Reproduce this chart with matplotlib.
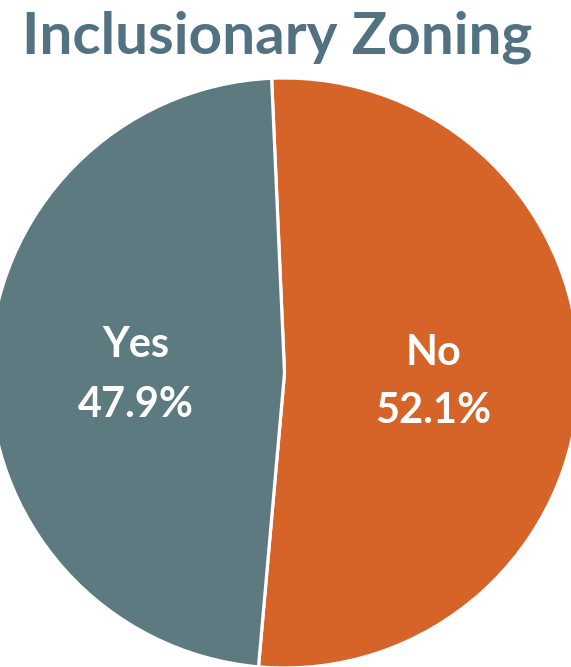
import matplotlib
matplotlib.use("Agg")
import matplotlib.pyplot as plt

# Survey result: does the jurisdiction have inclusionary zoning?
categories = ["No", "Yes"]
shares = [52.1, 47.9]
slice_colors = ["#D66328", "#5C7A7F"]
title_text = "Inclusionary Zoning"
title_color = "#527282"

W, H, DPI = 571, 667, 100
fig = plt.figure(figsize=(W / DPI, H / DPI), dpi=DPI)
fig.patch.set_facecolor("white")

FONT = ["Lato", "DejaVu Sans"]

# Pie: centre and radius in pixels
cx, cy_top, r = 284.5, 373.0, 295.0
cy = H - cy_top
ax = fig.add_axes([(cx - r) / W, (cy - r) / H, 2 * r / W, 2 * r / H])
ax.pie(shares, colors=slice_colors, startangle=92.5, counterclock=False,
       wedgeprops=dict(edgecolor="white", linewidth=2.3))
ax.set_xlim(-1, 1)
ax.set_ylim(-1, 1)
ax.set_aspect("auto")
ax.axis("off")

renderer = fig.canvas.get_renderer()


def fit_size(text, target_px, weight="bold"):
    """Font size at which `text` renders target_px wide."""
    t = fig.text(0, 0, text, fontsize=40, fontweight=weight, family=FONT)
    w = t.get_window_extent(renderer).width
    t.remove()
    return 40 * target_px / w


# Title
ts = fit_size(title_text, 510)
fig.text(276.7 / W, (H - 53.3) / H, title_text, fontsize=ts, fontweight="bold",
         family=FONT, color=title_color, ha="center", va="baseline")

# Slice labels
ls = fit_size("47.9%", 116)
label_pos = {"Yes": (135.5, 357, 417), "No": (433.5, 365, 423)}
for name, val in zip(categories, shares):
    x, y1, y2 = label_pos[name]
    fig.text(x / W, (H - y1) / H, name, fontsize=ls, fontweight="bold",
             family=FONT, color="white", ha="center", va="baseline")
    fig.text(x / W, (H - y2) / H, f"{val:.1f}%", fontsize=ls, fontweight="bold",
             family=FONT, color="white", ha="center", va="baseline")

fig.savefig("out.png", dpi=DPI, facecolor="white")
